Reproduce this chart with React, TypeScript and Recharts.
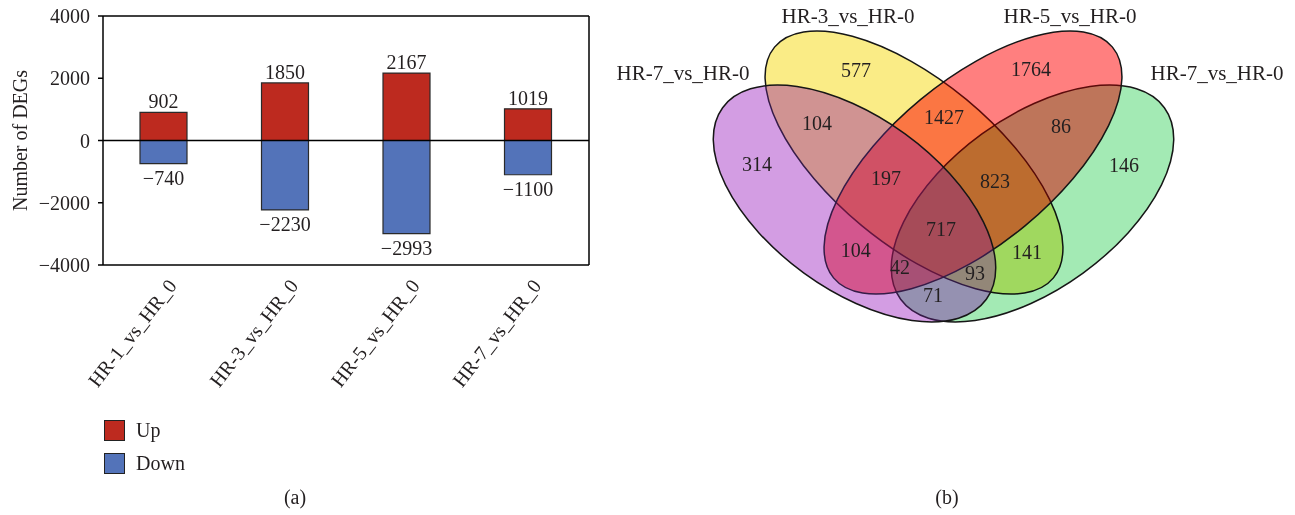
import React from 'react';
import {
  BarChart,
  Bar,
  XAxis,
  YAxis,
  ReferenceLine,
  Legend,
  LabelList,
  ScatterChart,
  Scatter,
} from 'recharts';

const FONT = '"Liberation Serif", "Times New Roman", Times, serif';
const INK = '#231f20';

// ---------- panel (a) data ----------
const comparisons = ['HR-1_vs_HR_0', 'HR-3_vs_HR_0', 'HR-5_vs_HR_0', 'HR-7_vs_HR_0'];
const upDEGs = [902, 1850, 2167, 1019];
const downDEGs = [-740, -2230, -2993, -1100];
const yTicks = [-4000, -2000, 0, 2000, 4000];
const seriesNames = ['Up', 'Down'];
const seriesColors = ['#BD2A1F', '#5373B9'];

// ---------- panel (b) data ----------
const vennSets = ['HR-7_vs_HR-0', 'HR-3_vs_HR-0', 'HR-5_vs_HR-0', 'HR-7_vs_HR-0'];
const vennColors = ['#D49EE4', '#FAEC86', '#FF8080', '#A3EAB4'];
const vennRegions = ['A', 'B', 'C', 'D', 'AB', 'BC', 'CD', 'AC', 'ABC', 'BCD', 'ABCD', 'ACD', 'ABD', 'BD', 'AD'];
const vennCounts = [314, 577, 1764, 146, 104, 1427, 86, 104, 197, 823, 717, 42, 93, 141, 71];

// ---------- panel (b) layout / style (venn coordinate space) ----------
const ellipseLayout = [
  { x: 854.5, y: 203.5, rx: 163, ry: 86, rot: 36 },
  { x: 914, y: 162.5, rx: 181, ry: 82, rot: 39.6 },
  { x: 973, y: 162.5, rx: 181, ry: 82, rot: -39.6 },
  { x: 1032.5, y: 203.5, rx: 163, ry: 86, rot: -36 },
];
// tint layer drawn normally over the multiplied fill (null = multiply only)
const ellipseTint: (null | { rgb: number[]; a: number })[] = [
  { rgb: [130, 50, 190], a: 0.3 },
  null,
  { rgb: [255, 0, 0], a: 0.3 },
  null,
];
const drawOrder = [1, 3, 2, 0];
const regionLayout = [
  [757, 164], [856, 70], [1031, 69], [1124, 165], [817, 123], [944, 117], [1061, 126],
  [855.7, 250], [886, 178], [995, 181], [941, 229], [900, 267], [975, 273], [1027, 252], [933, 295],
];
const setLabelLayout = [[683, 80], [848, 23], [1070, 23], [1217, 80]];

const hexToRgb = (h: string) => [1, 3, 5].map((k) => parseInt(h.slice(k, k + 2), 16));
const rgbStr = (c: number[]) =>
  `rgb(${c.map((v) => Math.round(Math.max(0, Math.min(255, v)))).join(',')})`;

const barData = comparisons.map((name, i) => ({ name, up: upDEGs[i], down: downDEGs[i] }));
const ellipseData = drawOrder.map((i) => {
  const base = hexToRgb(vennColors[i]);
  const tint = ellipseTint[i];
  const mult = tint ? base.map((v, k) => (v - tint.a * tint.rgb[k]) / (1 - tint.a)) : base;
  return {
    ...ellipseLayout[i],
    mult: rgbStr(mult),
    tint: tint ? rgbStr(tint.rgb) : null,
    tintAlpha: tint ? tint.a : 0,
    name: vennSets[i],
  };
});
const regionData = vennCounts.map((count, i) => ({
  x: regionLayout[i][0],
  y: regionLayout[i][1],
  count,
  region: vennRegions[i],
}));
const setLabelData = vennSets.map((label, i) => ({
  x: setLabelLayout[i][0],
  y: setLabelLayout[i][1],
  label,
}));

const fmt = (v: number) => (v < 0 ? '\u2212' + Math.abs(v) : String(v));

const XTick = (props: any) => {
  const { x, y, payload } = props;
  const ax = x + 14;
  const ay = y + 21;
  return (
    <text
      x={ax}
      y={ay}
      transform={`rotate(-52 ${ax} ${ay})`}
      textAnchor="end"
      fontFamily={FONT}
      fontSize={20}
      fill={INK}
    >
      {payload.value}
    </text>
  );
};

const makeBarLabel = (dir: 'up' | 'down') => (props: any) => {
  const vb = props.viewBox || props;
  const x = Number(vb.x);
  const y = Number(vb.y);
  const w = Number(vb.width);
  const h = Number(vb.height);
  const top = Math.min(y, y + h);
  const bottom = Math.max(y, y + h);
  const cx = x + w / 2;
  return (
    <text
      x={cx}
      y={dir === 'up' ? top - 4 : bottom + 21}
      textAnchor="middle"
      fontFamily={FONT}
      fontSize={20}
      fill={INK}
    >
      {fmt(Number(props.value))}
    </text>
  );
};

const YLabel = (props: any) => {
  const vb = props.viewBox;
  const cx = vb.x - 3;
  const cy = vb.y + vb.height / 2;
  return (
    <text
      x={cx}
      y={cy}
      transform={`rotate(-90 ${cx} ${cy})`}
      textAnchor="middle"
      dominantBaseline="central"
      fontFamily={FONT}
      fontSize={20}
      fill={INK}
    >
      Number of DEGs
    </text>
  );
};

const LegendContent = (props: any) => {
  const payload = [...(props.payload || [])].sort(
    (a: any, b: any) => seriesNames.indexOf(a.value) - seriesNames.indexOf(b.value)
  );
  return (
    <div style={{ fontFamily: FONT, fontSize: 20, color: INK }}>
      {payload.map((entry: any, i: number) => (
        <div
          key={entry.value}
          style={{ display: 'flex', alignItems: 'center', height: 22, marginBottom: i === 0 ? 11 : 0 }}
        >
          <span
            style={{
              display: 'inline-block',
              width: 19,
              height: 19,
              background: entry.color,
              border: '1.5px solid #222',
            }}
          />
          <span style={{ marginLeft: 11, lineHeight: '22px' }}>{entry.value}</span>
        </div>
      ))}
    </div>
  );
};

const EllipseShape = (props: any) => {
  const d = props.payload;
  const cx = props.cx;
  const cy = props.cy;
  const tr = `rotate(${d.rot} ${cx} ${cy})`;
  return (
    <g>
      <ellipse
        cx={cx}
        cy={cy}
        rx={d.rx}
        ry={d.ry}
        transform={tr}
        fill={d.mult}
        stroke={d.tint ? 'none' : '#161616'}
        strokeWidth={1.5}
        style={{ mixBlendMode: 'multiply' }}
      />
      {d.tint ? (
        <ellipse
          cx={cx}
          cy={cy}
          rx={d.rx}
          ry={d.ry}
          transform={tr}
          fill={d.tint}
          fillOpacity={d.tintAlpha}
          stroke="#161616"
          strokeWidth={1.5}
        />
      ) : null}
    </g>
  );
};

const CountShape = (props: any) => (
  <text
    x={props.cx}
    y={props.cy}
    dy="0.35em"
    textAnchor="middle"
    fontFamily={FONT}
    fontSize={20}
    fill={INK}
  >
    {props.payload.count}
  </text>
);

const SetLabelShape = (props: any) => (
  <text x={props.cx} y={props.cy} textAnchor="middle" fontFamily={FONT} fontSize={21} fill={INK}>
    {props.payload.label}
  </text>
);

const axisLine = { stroke: '#000', strokeWidth: 1.5 };

export default function App() {
  return (
    <div
      style={{
        position: 'absolute',
        left: 0,
        top: 0,
        width: 1295,
        height: 515,
        background: '#fff',
        fontFamily: FONT,
        overflow: 'hidden',
      }}
    >
      <div style={{ position: 'absolute', left: 0, top: 0 }}>
        <BarChart
          width={620}
          height={515}
          data={barData}
          stackOffset="sign"
          barSize={47}
          margin={{ top: 16, right: 30, bottom: 220, left: 23 }}
        >
          <XAxis
            xAxisId="bottom"
            dataKey="name"
            height={30}
            interval={0}
            tickLine={false}
            tickSize={0}
            tickMargin={0}
            axisLine={axisLine}
            tick={<XTick />}
          />
          <YAxis
            yAxisId="left"
            width={80}
            domain={[-4000, 4000]}
            ticks={yTicks}
            interval={0}
            tickSize={5}
            tickMargin={8}
            tickFormatter={fmt}
            tick={{ fontFamily: FONT, fontSize: 20, fill: INK }}
            tickLine={{ stroke: '#000', strokeWidth: 1.5 }}
            axisLine={axisLine}
            label={<YLabel />}
          />
          <YAxis
            yAxisId="right"
            orientation="right"
            width={1}
            domain={[-4000, 4000]}
            tick={false}
            tickLine={false}
            axisLine={axisLine}
          />
          <ReferenceLine xAxisId="bottom" yAxisId="left" y={4000} stroke="#000" strokeWidth={1.5} />
          <ReferenceLine xAxisId="bottom" yAxisId="left" y={0} stroke="#000" strokeWidth={1.3} />
          <Bar
            xAxisId="bottom"
            yAxisId="left"
            dataKey="up"
            name={seriesNames[0]}
            stackId="deg"
            fill={seriesColors[0]}
            stroke="#2a2a2a"
            strokeWidth={1.2}
            isAnimationActive={false}
          >
            <LabelList dataKey="up" content={makeBarLabel('up')} />
          </Bar>
          <Bar
            xAxisId="bottom"
            yAxisId="left"
            dataKey="down"
            name={seriesNames[1]}
            stackId="deg"
            fill={seriesColors[1]}
            stroke="#2a2a2a"
            strokeWidth={1.2}
            isAnimationActive={false}
          >
            <LabelList dataKey="down" content={makeBarLabel('down')} />
          </Bar>
          <Legend
            layout="vertical"
            align="center"
            verticalAlign="middle"
            content={<LegendContent />}
            wrapperStyle={{ left: 104, top: 419, width: 'auto', height: 'auto' }}
          />
        </BarChart>
      </div>

      <div style={{ position: 'absolute', left: 600, top: 0 }}>
        <ScatterChart width={695} height={345} margin={{ top: 0, right: 0, bottom: 0, left: 0 }}>
          <XAxis type="number" dataKey="x" domain={[600, 1295]} hide height={0} />
          <YAxis type="number" dataKey="y" domain={[0, 345]} reversed hide width={0} />
          <Scatter data={ellipseData} shape={EllipseShape} isAnimationActive={false} />
          <Scatter data={regionData} shape={CountShape} isAnimationActive={false} />
          <Scatter data={setLabelData} shape={SetLabelShape} isAnimationActive={false} />
        </ScatterChart>
      </div>

      <div
        style={{
          position: 'absolute',
          left: 265,
          width: 60,
          top: 485,
          textAlign: 'center',
          fontSize: 20,
          lineHeight: '24px',
          color: INK,
        }}
      >
        (a)
      </div>
      <div
        style={{
          position: 'absolute',
          left: 917,
          width: 60,
          top: 485,
          textAlign: 'center',
          fontSize: 20,
          lineHeight: '24px',
          color: INK,
        }}
      >
        (b)
      </div>
    </div>
  );
}
